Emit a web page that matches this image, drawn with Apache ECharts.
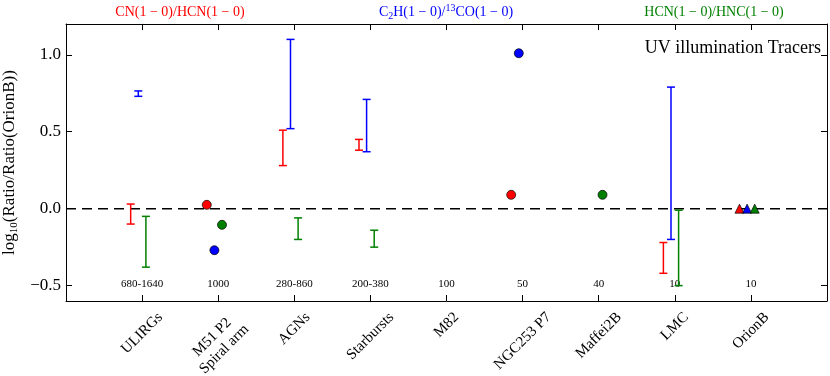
<!DOCTYPE html>
<html>
<head>
<meta charset="utf-8">
<script src="https://cdn.jsdelivr.net/npm/echarts@6/dist/echarts.min.js"></script>
<style>
  html, body { margin: 0; padding: 0; background: #fff; }
  #chart { width: 830px; height: 376px; }
</style>
</head>
<body>
<div id="chart"></div>
<script>
// categories along x and the number printed above each one
const categories = ['ULIRGs', 'M51 P2\nSpiral arm', 'AGNs', 'Starbursts', 'M82', 'NGC253 P7', 'Maffei2B', 'LMC', 'OrionB'];
const sampleSizes = ['680-1640', '1000', '280-860', '200-380', '100', '50', '40', '10', '10'];
const yTicks = [-0.5, 0, 0.5, 1.0];

// [category index, low, high]
const cnHcnRanges = [[0, -0.10, 0.03], [2, 0.28, 0.51], [3, 0.38, 0.45], [7, -0.42, -0.22]];
const c2hRanges = [[0, 0.73, 0.765], [2, 0.52, 1.10], [3, 0.37, 0.71], [7, -0.20, 0.79]];
const hcnHncRanges = [[0, -0.38, -0.05], [2, -0.20, -0.06], [3, -0.25, -0.14], [7, -0.50, -0.01]];

// [category index, value]
const cnHcnPoints = [[1, 0.025], [5, 0.09]];
const c2hPoints = [[1, -0.27], [5, 1.01]];
const hcnHncPoints = [[1, -0.105], [6, 0.09]];
const orionRef = [[8, 0]];

const FONT = 'Liberation Serif';
const RED = '#ff0000', BLUE = '#0000ff', GREEN = '#008000';
const offsets = { red: -0.15, blue: -0.05, green: 0.05 };

const measureCtx = document.createElement('canvas').getContext('2d');
function textWidth(t, size) {
  measureCtx.font = size + 'px "' + FONT + '"';
  return measureCtx.measureText(t).width;
}

function errorBars(data, color, offset) {
  return {
    type: 'custom',
    z: 3,
    silent: true,
    data: data,
    renderItem: (params, api) => {
      const x = api.value(0) + offset;
      const lo = api.coord([x, api.value(1)]);
      const hi = api.coord([x, api.value(2)]);
      const cap = 4;
      const style = { stroke: color, lineWidth: 1.5 };
      return {
        type: 'group',
        children: [
          { type: 'line', shape: { x1: lo[0], y1: lo[1], x2: hi[0], y2: hi[1] }, style: style },
          { type: 'line', shape: { x1: lo[0] - cap, y1: lo[1], x2: lo[0] + cap, y2: lo[1] }, style: style },
          { type: 'line', shape: { x1: hi[0] - cap, y1: hi[1], x2: hi[0] + cap, y2: hi[1] }, style: style }
        ]
      };
    }
  };
}

function points(data, color, offset, symbol) {
  return {
    type: 'scatter',
    z: 4,
    silent: true,
    symbol: symbol || 'circle',
    symbolSize: 9,
    itemStyle: { color: color, borderColor: '#000', borderWidth: 0.7, opacity: 1 },
    data: data.map(d => [d[0] + offset, d[1]])
  };
}

const chart = echarts.init(document.getElementById('chart'));

const tickFmt = v => (v < 0 ? '\u2212' + Math.abs(v).toFixed(1) : v.toFixed(1));
const catIdx = categories.map((c, i) => i);

chart.setOption({
  animation: false,
  grid: { left: 66, right: 3, top: 24, bottom: 75, containLabel: false, outerBoundsMode: 'none' },
  xAxis: [
    {
      type: 'value', min: -1, max: 9, position: 'bottom',
      axisLine: { show: true, onZero: false, lineStyle: { color: '#000', width: 1 } },
      axisTick: { show: true, inside: true, length: 6, customValues: catIdx, lineStyle: { color: '#000' } },
      axisLabel: { show: false },
      splitLine: { show: false }
    },
    {
      type: 'value', min: -1, max: 9, position: 'top',
      axisLine: { show: true, onZero: false, lineStyle: { color: '#000', width: 1 } },
      axisTick: { show: true, inside: true, length: 6, customValues: catIdx, lineStyle: { color: '#000' } },
      axisLabel: { show: false },
      splitLine: { show: false }
    }
  ],
  yAxis: [
    {
      type: 'value', min: -0.6, max: 1.2, position: 'left',
      axisLine: { show: true, onZero: false, lineStyle: { color: '#000', width: 1 } },
      axisTick: { show: true, inside: true, length: 6, customValues: yTicks, lineStyle: { color: '#000' } },
      axisLabel: { show: true, customValues: yTicks, formatter: tickFmt, margin: 5, color: '#000', fontSize: 17, fontFamily: FONT },
      splitLine: { show: false },
      name: '{a|log}{s|10}{a|(Ratio/Ratio(OrionB))}',
      nameLocation: 'middle',
      nameGap: 46,
      nameTextStyle: {
        rich: {
          a: { fontSize: 17, fontFamily: FONT, color: '#000', lineHeight: 20 },
          s: { fontSize: 11, fontFamily: FONT, color: '#000', verticalAlign: 'bottom' }
        }
      }
    },
    {
      type: 'value', min: -0.6, max: 1.2, position: 'right',
      axisLine: { show: true, onZero: false, lineStyle: { color: '#000', width: 1 } },
      axisTick: { show: true, inside: true, length: 6, customValues: yTicks, lineStyle: { color: '#000' } },
      axisLabel: { show: false },
      splitLine: { show: false }
    }
  ],
  graphic: [
    { type: 'text', x: 180, y: 12, style: { text: 'CN(1 \u2212 0)/HCN(1 \u2212 0)', font: '14px "' + FONT + '"', fill: RED, align: 'center', verticalAlign: 'middle' } },
    {
      type: 'text', x: 446, y: 12,
      style: {
        text: '{n|C}{sub|2}{n|H(1 \u2212 0)/}{sup|13}{n|CO(1 \u2212 0)}',
        fill: BLUE, align: 'center', verticalAlign: 'middle',
        rich: {
          n: { fontSize: 14, fontFamily: FONT, fill: BLUE, lineHeight: 18 },
          sub: { fontSize: 10, fontFamily: FONT, fill: BLUE, verticalAlign: 'bottom' },
          sup: { fontSize: 10, fontFamily: FONT, fill: BLUE, verticalAlign: 'top' }
        }
      }
    },
    { type: 'text', x: 714, y: 12, style: { text: 'HCN(1 \u2212 0)/HNC(1 \u2212 0)', font: '14px "' + FONT + '"', fill: GREEN, align: 'center', verticalAlign: 'middle' } },
    { type: 'text', x: 821, y: 48, style: { text: 'UV illumination Tracers', font: '18px "' + FONT + '"', fill: '#000', align: 'right', verticalAlign: 'middle' } }
  ],
  series: [
    {
      type: 'line',
      z: 1,
      silent: true,
      symbol: 'none',
      data: [[-1, 0], [9, 0]],
      lineStyle: { color: '#000', width: 1.5, type: [10, 6] }
    },
    errorBars(cnHcnRanges, RED, offsets.red),
    errorBars(c2hRanges, BLUE, offsets.blue),
    errorBars(hcnHncRanges, GREEN, offsets.green),
    points(cnHcnPoints, RED, offsets.red),
    points(c2hPoints, BLUE, offsets.blue),
    points(hcnHncPoints, GREEN, offsets.green),
    points(orionRef, RED, offsets.red, 'triangle'),
    points(orionRef, BLUE, offsets.blue, 'triangle'),
    points(orionRef, GREEN, offsets.green, 'triangle'),
    {
      // sample sizes printed inside the plot
      type: 'custom',
      silent: true,
      z: 2,
      data: sampleSizes.map((s, i) => [i, -0.49]),
      renderItem: (params, api) => {
        const p = api.coord([api.value(0), api.value(1)]);
        return {
          type: 'text', x: p[0], y: p[1],
          style: { text: sampleSizes[params.dataIndex], font: '11px "' + FONT + '"', fill: '#000', align: 'center', verticalAlign: 'middle' }
        };
      }
    },
    {
      // rotated category labels under the axis, centred on their ticks
      type: 'custom',
      silent: true,
      data: categories.map((c, i) => [i, -0.6]),
      renderItem: (params, api) => {
        const text = categories[params.dataIndex];
        const lines = text.split('\n');
        const size = 15, lh = 17;
        const w = Math.max.apply(null, lines.map(l => textWidth(l, size)));
        const h = lines.length * lh;
        const box = (w + h) * Math.SQRT1_2;
        const p = api.coord([api.value(0), api.value(1)]);
        return {
          type: 'text', x: p[0], y: p[1] + 8 + box / 2, rotation: Math.PI / 4,
          style: { text: text, font: size + 'px "' + FONT + '"', lineHeight: lh, fill: '#000', align: 'center', verticalAlign: 'middle' }
        };
      }
    }
  ]
});
</script>
</body>
</html>
